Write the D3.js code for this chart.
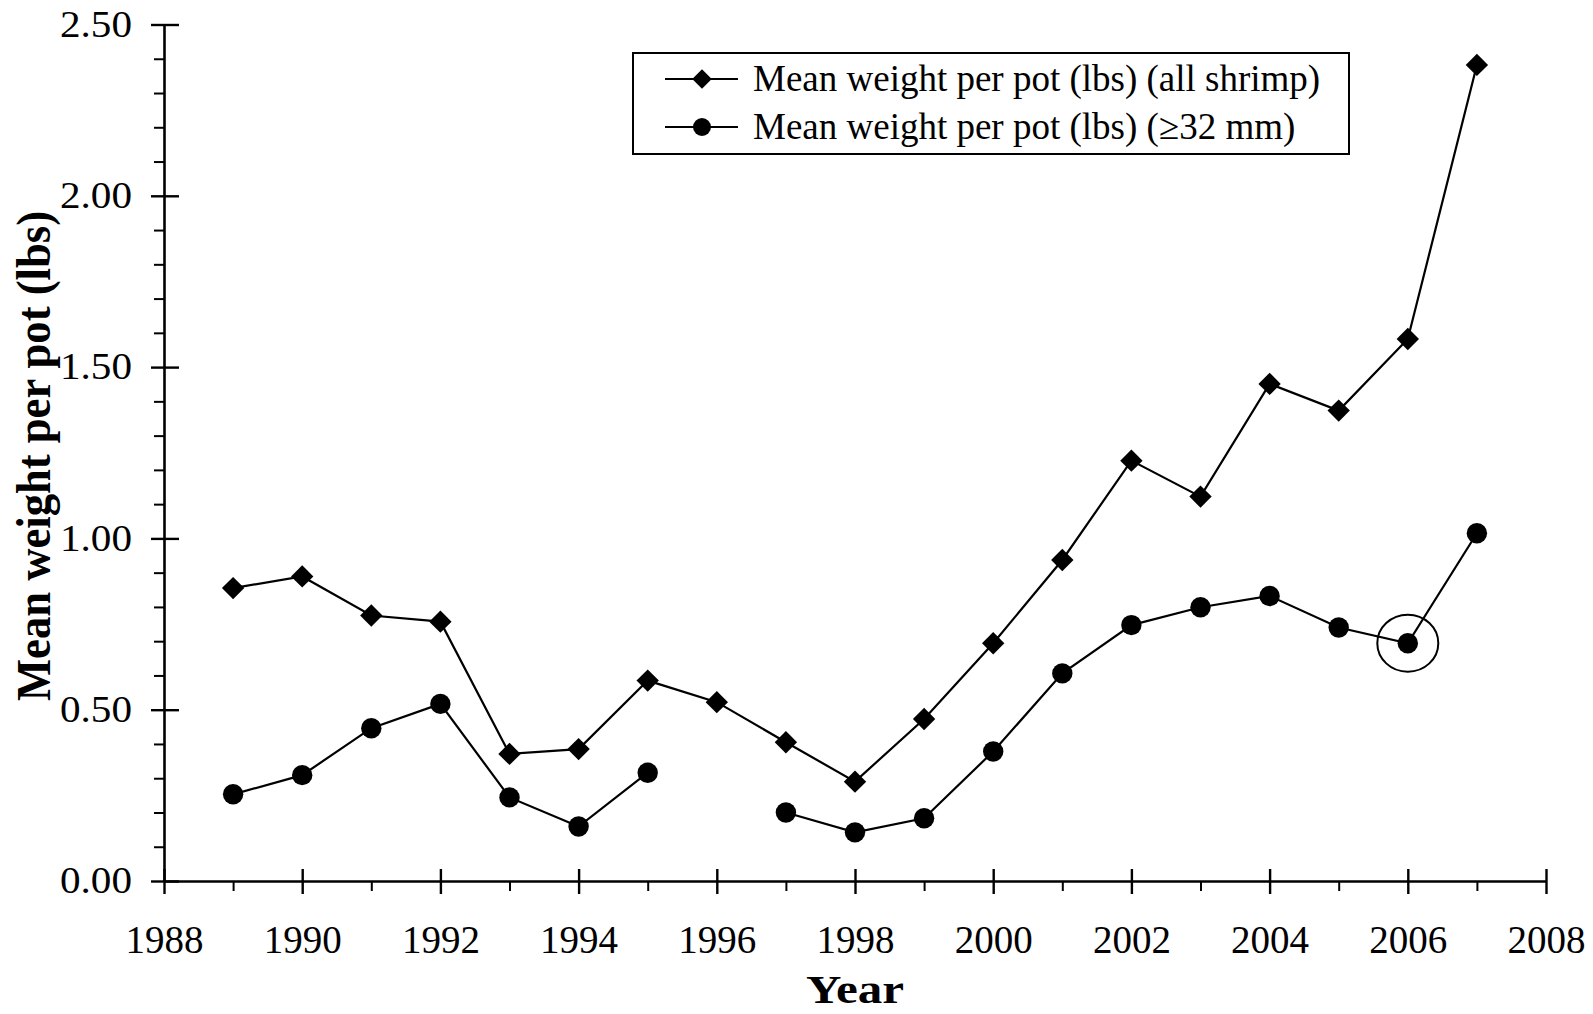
<!DOCTYPE html>
<html>
<head>
<meta charset="utf-8">
<script src="https://cdn.jsdelivr.net/npm/d3@7"></script>
<style>
  body { margin: 0; background: #fff; }
  svg { display: block; }
  text { font-family: "Liberation Serif", "Times New Roman", serif; fill: #000; }
  .ylab text { font-size: 37px; }
  .xlab text { font-size: 39px; }
  .legend text { font-size: 37px; }
  .title { font-weight: bold; }
</style>
</head>
<body>
<script>
// Survey years and mean catch weight per pot (lbs)
const years = [1989, 1990, 1991, 1992, 1993, 1994, 1995, 1996, 1997, 1998,
               1999, 2000, 2001, 2002, 2003, 2004, 2005, 2006, 2007];
const allShrimp = [0.855, 0.889, 0.775, 0.757, 0.371, 0.385, 0.585, 0.522, 0.405, 0.290,
                   0.473, 0.694, 0.937, 1.227, 1.122, 1.451, 1.373, 1.582, 2.382];
// no value for 1996 in the >=32 mm series
const over32mm = [0.253, 0.309, 0.446, 0.517, 0.244, 0.159, 0.316, null, 0.200, 0.142,
                  0.183, 0.378, 0.606, 0.747, 0.799, 0.832, 0.740, 0.694, 1.015];

const yearTicks = [1988, 1990, 1992, 1994, 1996, 1998, 2000, 2002, 2004, 2006, 2008];
const yearMinorTicks = [1989, 1991, 1993, 1995, 1997, 1999, 2001, 2003, 2005, 2007];
const weightTicks = [0, 0.5, 1.0, 1.5, 2.0, 2.5];
const weightMinorTicks = [0.1, 0.2, 0.3, 0.4, 0.6, 0.7, 0.8, 0.9, 1.1, 1.2, 1.3, 1.4,
                          1.6, 1.7, 1.8, 1.9, 2.1, 2.2, 2.3, 2.4];
const seriesNames = ["Mean weight per pot (lbs) (all shrimp)",
                     "Mean weight per pot (lbs) (\u226532 mm)"];
const highlightYear = 2006;   // circled point in the >=32 mm series
const xTitle = "Year";
const yTitle = "Mean weight per pot (lbs)";

const W = 1593, H = 1014;
const plotLeft = 164, plotRight = 1546, plotTop = 24.5, plotBottom = 881;

const x = d3.scaleLinear().domain([1988, 2008]).range([plotLeft, plotRight]);
const y = d3.scaleLinear().domain([0, 2.5]).range([plotBottom, plotTop]);

const svg = d3.select("body").append("svg")
  .attr("width", W).attr("height", H)
  .attr("viewBox", `0 0 ${W} ${H}`);

const AXIS_W = 2.6;

// ---- y axis: minor ticks (outside only)
svg.append("g")
  .attr("transform", `translate(${plotLeft},0)`)
  .call(d3.axisLeft(y).tickValues(weightMinorTicks).tickSize(10).tickFormat(""))
  .call(g => g.select(".domain").remove())
  .call(g => g.selectAll(".tick line").attr("stroke", "#000").attr("stroke-width", 2));

// ---- y axis: major ticks crossing the axis, with labels
svg.append("g")
  .attr("class", "ylab")
  .attr("transform", `translate(${plotLeft},0)`)
  .call(d3.axisLeft(y).tickValues(weightTicks).tickFormat(d3.format(".2f"))
        .tickSize(13).tickPadding(19).tickSizeOuter(0))
  .call(g => g.attr("font-size", null).attr("font-family", null))
  .call(g => g.select(".domain").attr("stroke", "#000").attr("stroke-width", AXIS_W))
  .call(g => g.selectAll(".tick line").attr("x1", 15).attr("stroke", "#000").attr("stroke-width", 2.4))
  .call(g => g.selectAll(".tick text").attr("fill", "#000")
        .attr("textLength", 72).attr("lengthAdjust", "spacingAndGlyphs"));

// ---- x axis: minor ticks (below only)
svg.append("g")
  .attr("transform", `translate(0,${plotBottom})`)
  .call(d3.axisBottom(x).tickValues(yearMinorTicks).tickSize(10).tickFormat(""))
  .call(g => g.select(".domain").remove())
  .call(g => g.selectAll(".tick line").attr("stroke", "#000").attr("stroke-width", 2));

// ---- x axis: major ticks crossing the axis, with labels
svg.append("g")
  .attr("class", "xlab")
  .attr("transform", `translate(0,${plotBottom})`)
  .call(d3.axisBottom(x).tickValues(yearTicks).tickFormat(d3.format("d"))
        .tickSize(13).tickSizeOuter(0))
  .call(g => g.attr("font-size", null).attr("font-family", null))
  .call(g => g.select(".domain").attr("stroke", "#000").attr("stroke-width", AXIS_W))
  .call(g => g.selectAll(".tick line").attr("y1", -12).attr("stroke", "#000").attr("stroke-width", 2.4))
  .call(g => g.selectAll(".tick text").attr("fill", "#000").attr("y", 72).attr("dy", null));

// ---- axis titles
svg.append("text")
  .attr("class", "title")
  .attr("x", (plotLeft + plotRight) / 2).attr("y", 1003)
  .attr("text-anchor", "middle")
  .attr("font-size", 40)
  .attr("textLength", 98).attr("lengthAdjust", "spacingAndGlyphs")
  .text(xTitle);

svg.append("text")
  .attr("class", "title")
  .attr("transform", `translate(50,456) rotate(-90)`)
  .attr("text-anchor", "middle")
  .attr("font-size", 48)
  .attr("textLength", 490).attr("lengthAdjust", "spacingAndGlyphs")
  .text(yTitle);

// ---- series
const rows = years.map((yr, i) => ({ yr, a: allShrimp[i], b: over32mm[i] }));

const lineA = d3.line().x(d => x(d.yr)).y(d => y(d.a));
const lineB = d3.line().defined(d => d.b != null).x(d => x(d.yr)).y(d => y(d.b));

svg.append("path").datum(rows)
  .attr("d", lineA).attr("fill", "none").attr("stroke", "#000").attr("stroke-width", 2.2);
svg.append("path").datum(rows)
  .attr("d", lineB).attr("fill", "none").attr("stroke", "#000").attr("stroke-width", 2.2);

const diamond = d3.symbol(d3.symbolSquare, 250);
svg.append("g").selectAll("path")
  .data(rows)
  .join("path")
  .attr("d", diamond)
  .attr("transform", d => `translate(${x(d.yr)},${y(d.a)}) rotate(45)`)
  .attr("fill", "#000");

svg.append("g").selectAll("circle")
  .data(rows.filter(d => d.b != null))
  .join("circle")
  .attr("cx", d => x(d.yr)).attr("cy", d => y(d.b))
  .attr("r", 10.2)
  .attr("fill", "#000");

// ring around the highlighted point
const hl = rows.find(d => d.yr === highlightYear);
svg.append("ellipse")
  .attr("cx", x(hl.yr)).attr("cy", y(hl.b))
  .attr("rx", 30.5).attr("ry", 28.5)
  .attr("fill", "none").attr("stroke", "#000").attr("stroke-width", 2);

// ---- legend
const legend = svg.append("g").attr("class", "legend");
legend.append("rect")
  .attr("x", 633).attr("y", 53).attr("width", 716).attr("height", 101)
  .attr("fill", "#fff").attr("stroke", "#000").attr("stroke-width", 2);

const legendRows = [
  { name: seriesNames[0], shape: "diamond", cy: 79 },
  { name: seriesNames[1], shape: "circle", cy: 127 }
];
legendRows.forEach(r => {
  legend.append("line")
    .attr("x1", 665).attr("x2", 738).attr("y1", r.cy).attr("y2", r.cy)
    .attr("stroke", "#000").attr("stroke-width", 2.2);
  if (r.shape === "diamond") {
    legend.append("path")
      .attr("d", d3.symbol(d3.symbolSquare, 190)())
      .attr("transform", `translate(702,${r.cy}) rotate(45)`)
      .attr("fill", "#000");
  } else {
    legend.append("circle").attr("cx", 702).attr("cy", r.cy).attr("r", 9).attr("fill", "#000");
  }
  legend.append("text")
    .attr("x", 753).attr("y", r.cy + 12)
    .text(r.name);
});
</script>
</body>
</html>
